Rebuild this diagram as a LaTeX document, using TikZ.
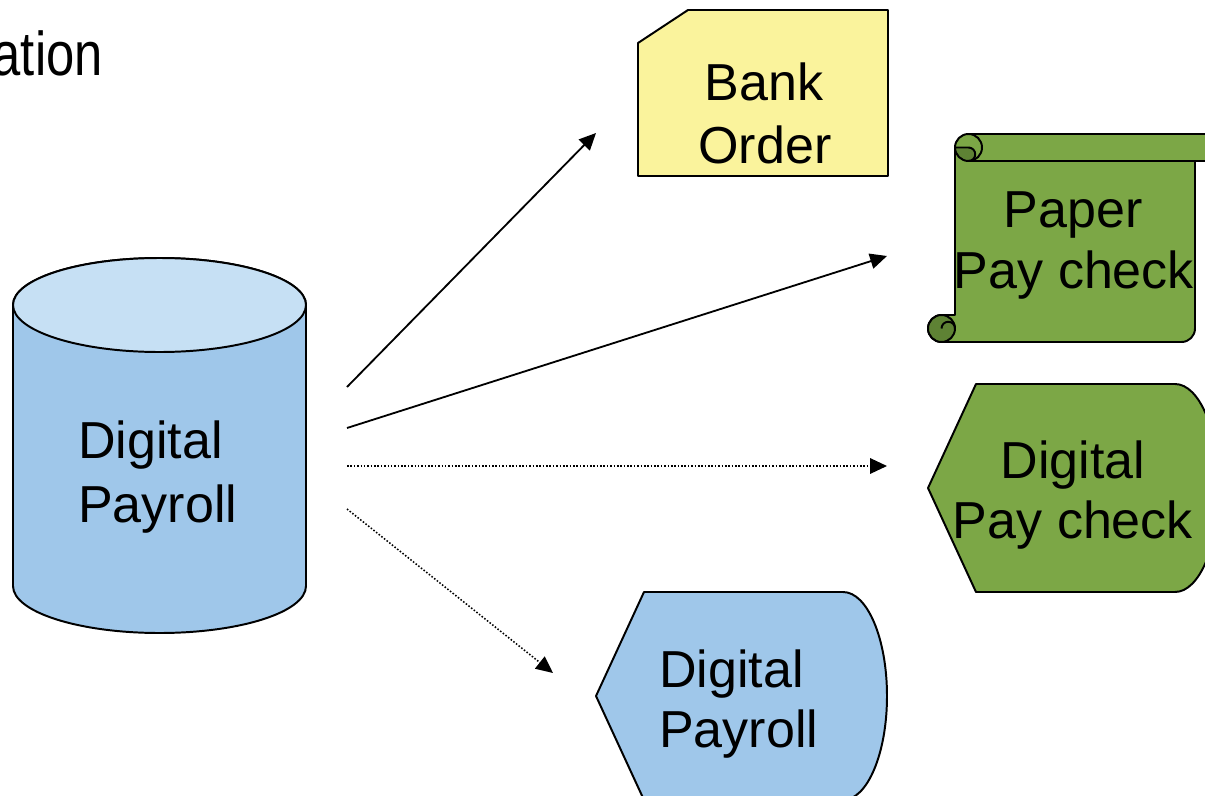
\documentclass[tikz,border=0pt]{standalone}
\usepackage{fontspec}
\setmainfont{Liberation Sans}
\newfontfamily\narrowfont[FakeStretch=0.82]{Liberation Sans}
\usetikzlibrary{arrows.meta,positioning}
\definecolor{dbblue}{HTML}{9FC7EA}
\definecolor{dbtop}{HTML}{C6E0F4}
\definecolor{bankyellow}{HTML}{FAF39C}
\definecolor{checkgreen}{HTML}{7CA746}
\definecolor{curlgreen}{HTML}{5E8234}

\begin{document}
\begin{tikzpicture}[x=0.025cm, y=-0.025cm,
    lbl/.style={font=\fontsize{37}{44}\selectfont, inner sep=0pt},
    outline/.style={draw=black, line width=1.4pt, line join=round},
    conn/.style={-{Triangle[length=12pt,width=11pt]}, line width=1.3pt},
    dotconn/.style={conn, line width=1.1pt, dash pattern=on 1.1pt off 1.3pt}]
      \useasboundingbox (0,0) rectangle (1205,796);
      \clip (0,0) rectangle (1205,796);

      % title (cut off)
      \node[font=\narrowfont\fontsize{44}{52}\selectfont, inner sep=0pt, anchor=base east] (title) at (103,75) {ation};

      % database
      \path[outline, fill=dbblue] (13,305) -- (13,586) arc[start angle=180, end angle=0, x radius=146.5, y radius=47]
        -- (306,305) arc[start angle=0, end angle=-180, x radius=146.5, y radius=47] -- cycle;
      \path[outline, fill=dbtop] (159.5,305) ellipse[x radius=146.5, y radius=47];
      \node[lbl, anchor=base west] (db1) at (78,458) {Digital};
      \node[lbl, anchor=base west] (db2) at (78,522) {Payroll};

      % bank order
      \path[outline, fill=bankyellow] (638,43) -- (688,10) -- (888,10) -- (888,176) -- (638,176) -- cycle;
      \node[lbl, anchor=base] (bank1) at (764,100) {Bank};
      \node[lbl, anchor=base] (bank2) at (765,163) {Order};

      % paper pay check (scroll)
      \path[outline, fill=checkgreen] (955,147.5) arc[start angle=180, end angle=270, radius=13.5]
        -- (1208.5,134) arc[start angle=270, end angle=450, radius=13.5] -- (1195,161)
        -- (1195,328.5) arc[start angle=0, end angle=90, radius=13.5]
        -- (941.5,342) arc[start angle=90, end angle=270, radius=13.5] -- (955,315) -- cycle;
      \draw[line width=1.4pt] (968.5,161) -- (1195,161);
      \path[outline, fill=curlgreen] (955,147.5) arc[start angle=180, end angle=90, radius=13.5]
        arc[start angle=90, end angle=-90, radius=6.75] -- cycle;
      \draw[line width=1.4pt] (968.5,161) arc[start angle=90, end angle=-90, radius=13.5];
      \path[outline, fill=curlgreen] (941.5,328.5) circle[radius=13.5];
      \draw[line width=1.4pt] (941.5,328.5) arc[start angle=180, end angle=360, radius=6.75];
      \node[lbl, anchor=base] (paper1) at (1073,227) {Paper};
      \node[lbl, anchor=base] (paper2) at (1074,288) {Pay check};

      % digital pay check (display)
      \path[outline, fill=checkgreen] (928,488) -- (976,384) -- (1175,384)
        arc[start angle=-90, end angle=90, x radius=44, y radius=104] -- (976,592) -- cycle;
      \node[lbl, anchor=base] (dig1) at (1073,478) {Digital};
      \node[lbl, anchor=base] (dig2) at (1073,538) {Pay check};

      % digital payroll (display)
      \path[outline, fill=dbblue] (596,696) -- (644,592) -- (843,592)
        arc[start angle=-90, end angle=90, x radius=44, y radius=104] -- (644,800) -- cycle;
      \node[lbl, anchor=base west] (out1) at (659,687) {Digital};
      \node[lbl, anchor=base west] (out2) at (659,747) {Payroll};

      % connectors
      \coordinate (dbA) at (347,387);
      \coordinate (dbB) at (347,428);
      \coordinate (dbC) at (347,466);
      \coordinate (dbD) at (347,509);
      \coordinate (bankin) at (596,133);
      \coordinate (paperin) at (887,256);
      \coordinate (digin) at (887,466);
      \coordinate (outin) at (553,673);
      \draw[conn] (dbA) -- (bankin);
      \draw[conn] (dbB) -- (paperin);
      \draw[dotconn] (dbC) -- (digin);
      \draw[dotconn] (dbD) -- (outin);
\end{tikzpicture}
\end{document}
